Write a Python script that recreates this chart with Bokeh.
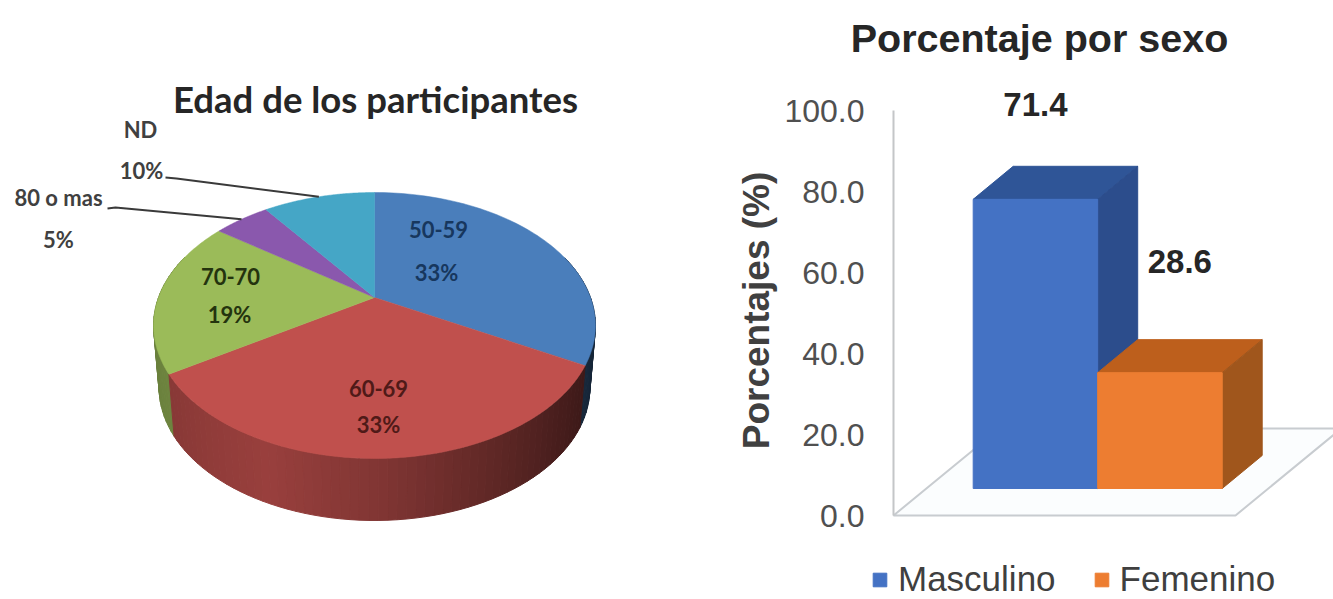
import numpy as np
from bokeh.core.properties import value
from bokeh.embed import file_html
from bokeh.layouts import row
from bokeh.models import FixedTicker, Legend, LegendItem, LinearAxis, NumeralTickFormatter, Range1d
from bokeh.plotting import figure
from bokeh.resources import INLINE

# Age breakdown (pie)
age_groups = ["50-59", "60-69", "70-70", "80 o mas", "ND"]
age_shares = [33, 33, 19, 5, 10]
age_top_colors = ["#4a7ebb", "#c0504d", "#9bbb59", "#8a58ad", "#45a6c6"]
age_text_colors = ["#17375e", "#4f1a18", "#24330e", "#404040", "#404040"]

# Sex breakdown (bars)
sexes = ["Masculino", "Femenino"]
sex_percent = [71.4, 28.6]
front_colors = ["#4472c4", "#ed7d31"]
top_colors = ["#2f5597", "#bd5f1c"]
side_colors = ["#2c4d8c", "#a0561c"]
y_ticks = [0, 20, 40, 60, 80, 100]

LABEL_FONT = value("Lato")
SANS = "Liberation Sans"


# ---- pie, tilted with a perspective projection of the unit disc ----
CX, CY = 374.0, 297.0
RX, RY, PERSP = 216.0, 127.1, 0.2105
WALL_DROP, WALL_SCALE = 62.0, 0.975


def project(theta):
    u, v = np.sin(theta), np.cos(theta)
    d = 1 + PERSP * v
    return CX + RX * u / d, CY - RY * v / d


def wall_shade(u):
    return np.interp(u, [-1, -0.4, 0, 0.4, 0.85, 1], [0.68, 0.80, 0.68, 0.52, 0.33, 0.28])


def scale_color(hex_color, k):
    rgb = [int(hex_color[i:i + 2], 16) for i in (1, 3, 5)]
    return "#%02x%02x%02x" % tuple(int(min(255, c * k)) for c in rgb)


pie = figure(width=666, height=599, x_range=Range1d(0, 666), y_range=Range1d(599, 0),
             x_axis_location=None, y_axis_location=None, toolbar_location=None,
             output_backend="svg", min_border_left=0, min_border_right=0,
             min_border_bottom=0, min_border_top=0, outline_line_color=None)
pie.grid.visible = False

pie.text([375], [98], text=["Edad de los participantes"], text_font=LABEL_FONT,
         text_font_size="36.5px", text_font_style="bold", text_color="#262626",
         text_align="center", text_baseline="middle")

edges = np.cumsum([0] + age_shares) / sum(age_shares) * 2 * np.pi

# outer wall: short facets, far ones first, so the shading varies around the rim
wall = []
for i, color in enumerate(age_top_colors):
    n = max(2, int(np.degrees(edges[i + 1] - edges[i]) / 2))
    ts = np.linspace(edges[i], edges[i + 1], n + 1)
    for a, b in zip(ts[:-1], ts[1:]):
        mid = (a + b) / 2
        if np.cos(mid) > 0.35:
            continue
        xa, ya = project(a)
        xb, yb = project(b)
        xs = [xa, xb, CX + (xb - CX) * WALL_SCALE, CX + (xa - CX) * WALL_SCALE]
        ys = [ya, yb, yb + WALL_DROP, ya + WALL_DROP]
        wall.append((np.cos(mid), xs, ys, scale_color(color, wall_shade(np.sin(mid)))))
wall.sort(key=lambda f: -f[0])
pie.patches([f[1] for f in wall], [f[2] for f in wall], fill_color=[f[3] for f in wall],
            line_color=[f[3] for f in wall], line_width=1)

# top face
for i, color in enumerate(age_top_colors):
    ts = np.linspace(edges[i], edges[i + 1], 80)
    x, y = project(ts)
    pie.patch(np.r_[CX, x], np.r_[CY, y], fill_color=color, line_color=color, line_width=0.5)

# leader lines for the two thin slices
leader_starts = {3: (107, 208, 115, 207), 4: (165, 177, 176, 178)}
for i, (x0, y0, x1, y1) in leader_starts.items():
    ex, ey = project((edges[i] + edges[i + 1]) / 2)
    pie.line([x0, x1, ex], [y0, y1, ey], line_color="#3a3a3a", line_width=2)

# slice labels: name above, percentage below
name_x = [438, 378, 230, 58, 140]
name_y = [229, 388, 276, 197, 129]
pct_x = [436, 378, 229, 58, 141]
pct_y = [272, 424, 314, 239, 170]
for i, group in enumerate(age_groups):
    for x, y, s in ((name_x[i], name_y[i], group), (pct_x[i], pct_y[i], f"{age_shares[i]}%")):
        pie.text([x], [y], text=[s], text_font=LABEL_FONT, text_font_size="22px",
                 text_font_style="bold", text_color=age_text_colors[i],
                 text_align="center", text_baseline="middle")


# ---- bars, with a hand-built 3D box around each column ----
UNIT = 124.5                 # pixels per category along x
PER_PCT = 4.05               # pixels per percentage point
PANEL_LEFT, AXIS_X, ZERO_Y = 666, 893, 515
GAP = 0.375                  # space beside the bars, in categories
FRONT_DX, FRONT_DY = 33 / UNIT, 6.67    # floor front edge to bar front
BOX_DX, BOX_DY = 40 / UNIT, 8.15        # depth of a bar
FLOOR_DX, FLOOR_DY = 106 / UNIT, 21.5   # depth of the floor
PLOT_W = 342 / UNIT

bars = figure(width=667, height=599,
              x_range=Range1d((PANEL_LEFT - AXIS_X) / UNIT, 440 / UNIT),
              y_range=Range1d((ZERO_Y - 599) / PER_PCT, ZERO_Y / PER_PCT),
              x_axis_location=None, y_axis_location=None, toolbar_location=None,
              output_backend="svg", min_border_left=0, min_border_right=0,
              min_border_top=0, min_border_bottom=0, outline_line_color=None)
bars.grid.visible = False


def slide_x(px):
    return (px - AXIS_X) / UNIT


def slide_y(py):
    return (ZERO_Y - py) / PER_PCT


bars.text([slide_x(1039)], [slide_y(37)], text=["Porcentaje por sexo"], text_font=value(SANS),
          text_font_size="39.5px", text_font_style="bold", text_color="#262626",
          text_align="center", text_baseline="middle")
bars.text([slide_x(756)], [slide_y(310)], text=["Porcentajes (%)"], angle=np.pi / 2,
          text_font=value(SANS), text_font_size="37px", text_font_style="bold",
          text_color="#404040", text_align="center", text_baseline="middle")

# the value axis sits at x = 0, inside the frame
axis = LinearAxis(fixed_location=0)
axis.bounds = (0, 100)
axis.ticker = FixedTicker(ticks=y_ticks)
axis.formatter = NumeralTickFormatter(format="0.0")
axis.major_label_text_font = SANS
axis.major_label_text_font_size = "32px"
axis.major_label_text_color = "#505050"
axis.major_label_standoff = 23
axis.major_tick_line_color = None
axis.minor_tick_line_color = None
axis.axis_line_color = "#c4c6c8"
axis.axis_line_width = 2
bars.add_layout(axis, "left")

# floor parallelogram
bars.patch([0, PLOT_W, PLOT_W + FLOOR_DX, FLOOR_DX], [0, 0, FLOOR_DY, FLOOR_DY],
           fill_color="#fbfdfe", line_color="#c8ccd0", line_width=2)

items = []
for i, (sex, pct) in enumerate(zip(sexes, sex_percent)):
    left = GAP + FRONT_DX + i
    right = left + 1
    low = FRONT_DY
    high = FRONT_DY + pct
    bars.patch([left, left + BOX_DX, right + BOX_DX, right],
               [high, high + BOX_DY, high + BOX_DY, high],
               fill_color=top_colors[i], line_color=top_colors[i])
    bars.patch([right, right + BOX_DX, right + BOX_DX, right],
               [low, low + BOX_DY, high + BOX_DY, high],
               fill_color=side_colors[i], line_color=side_colors[i])
    front = bars.vbar(x=[(left + right) / 2], width=1, bottom=[low], top=[high],
                      fill_color=front_colors[i], line_color=front_colors[i])
    items.append(LegendItem(label=sex, renderers=[front]))

# value captions float above each column
caption_dx = [0.0, 0.16]
caption_lift = [15.3, 19.3]
for i, pct in enumerate(sex_percent):
    bars.text([GAP + FRONT_DX + i + 0.5 + caption_dx[i]], [FRONT_DY + pct + BOX_DY + caption_lift[i]],
              text=[f"{pct:.1f}"], text_font=value(SANS), text_font_size="33px",
              text_font_style="bold", text_color="#262626",
              text_align="center", text_baseline="middle")

legend = Legend(items=items, orientation="horizontal", location=(205, 0),
                background_fill_alpha=0, border_line_color=None, margin=0, padding=1,
                glyph_width=17, glyph_height=17, label_standoff=10, spacing=37,
                label_text_font=SANS, label_text_font_size="35px", label_text_color="#3f3f3f")
bars.add_layout(legend, "center")

page = row(pie, bars, spacing=0)
open("out.html", "w").write(file_html(page, INLINE))
